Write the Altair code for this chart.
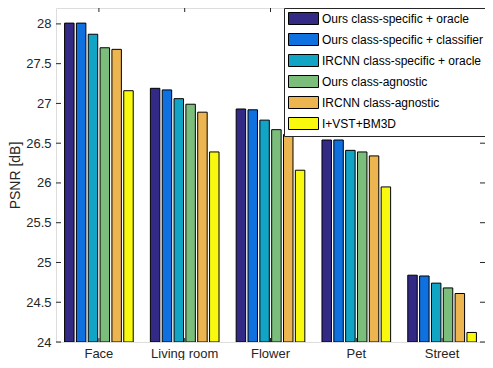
import altair as alt
import pandas as pd

categories = ["Face", "Living room", "Flower", "Pet", "Street"]
methods = [
    "Ours class-specific + oracle",
    "Ours class-specific + classifier",
    "IRCNN class-specific + oracle",
    "Ours class-agnostic",
    "IRCNN class-agnostic",
    "I+VST+BM3D",
]
colors = ["#332A86", "#0F70DF", "#12A4C4", "#7BBE7C", "#EDB54F", "#F8F90E"]

ours_specific_oracle = [28.01, 27.19, 26.93, 26.54, 24.84]
ours_specific_classifier = [28.01, 27.17, 26.92, 26.54, 24.83]
ircnn_specific_oracle = [27.87, 27.06, 26.79, 26.41, 24.74]
ours_agnostic = [27.70, 26.99, 26.67, 26.39, 24.68]
ircnn_agnostic = [27.68, 26.89, 26.61, 26.34, 24.61]
vst_bm3d = [27.16, 26.39, 26.16, 25.95, 24.12]

series = [ours_specific_oracle, ours_specific_classifier, ircnn_specific_oracle,
          ours_agnostic, ircnn_agnostic, vst_bm3d]

y_ticks = [24, 24.5, 25, 25.5, 26, 26.5, 27, 27.5, 28]
y_base = 24

rows = []
for m, vals in zip(methods, series):
    for c, v in zip(categories, vals):
        rows.append({"cat": c, "method": m, "psnr": v})
df = pd.DataFrame(rows)
ticks_df = pd.DataFrame({"t": y_ticks})
cats_df = pd.DataFrame({"cat": categories})

W, H = 429, 334
FONT = "Liberation Sans"
INK = "#262626"

xscale = alt.Scale(domain=categories, paddingInner=0.2, paddingOuter=0.1)
yscale = alt.Scale(domain=[24, 28.2], nice=False, zero=False)

bars = alt.Chart(df).mark_bar(stroke="black", strokeWidth=1, clip=True).encode(
    x=alt.X("cat:N", scale=xscale, sort=categories, title=None,
            axis=alt.Axis(labelAngle=0, ticks=False, domain=False, labelFontSize=13,
                          labelColor=INK, labelFont=FONT, labelPadding=5)),
    xOffset=alt.XOffset("method:N", sort=methods,
                        scale=alt.Scale(domain=methods, paddingInner=0.2, paddingOuter=0)),
    y=alt.Y("psnr:Q", scale=yscale, title="PSNR [dB]",
            axis=alt.Axis(values=y_ticks, format=".3~g", grid=False, ticks=False, domain=False,
                          labelFontSize=13, labelColor=INK, labelFont=FONT,
                          labelPadding=5, titleFontSize=14, titleFont=FONT,
                          titleColor=INK, titleFontWeight="normal", titlePadding=3)),
    y2=alt.Y2(datum=y_base),
    color=alt.Color("method:N", sort=methods,
                    scale=alt.Scale(domain=methods, range=colors),
                    legend=alt.Legend(title=None, orient="none", legendX=228, legendY=0,
                                      symbolType="M-1,-1H4V1H-1Z", symbolSize=144,
                                      symbolStrokeColor="black", symbolStrokeWidth=1,
                                      symbolOpacity=1,
                                      labelFontSize=12, labelFont=FONT, labelColor="black",
                                      labelOffset=21, rowPadding=4,
                                      strokeColor=INK, fillColor="white",
                                      padding=4, labelLimit=300)),
)

tick_enc_y = dict(y=alt.Y("t:Q", scale=yscale))
left_ticks = alt.Chart(ticks_df).mark_rule(color=INK, strokeWidth=1).encode(
    x=alt.value(0), x2=alt.value(5), **tick_enc_y)
right_ticks = alt.Chart(ticks_df).mark_rule(color=INK, strokeWidth=1).encode(
    x=alt.value(W - 5), x2=alt.value(W), **tick_enc_y)
bottom_ticks = alt.Chart(cats_df).mark_rule(color=INK, strokeWidth=1).encode(
    x=alt.X("cat:N", scale=xscale, sort=categories), y=alt.value(H - 4), y2=alt.value(H))
top_ticks = alt.Chart(cats_df).mark_rule(color=INK, strokeWidth=1).encode(
    x=alt.X("cat:N", scale=xscale, sort=categories), y=alt.value(0), y2=alt.value(4))

chart = alt.layer(bars, left_ticks, right_ticks, bottom_ticks, top_ticks).properties(
    width=W, height=H,
    autosize=alt.AutoSizeParams(type="none"),
    padding={"left": 48, "top": 0, "right": 0, "bottom": 18},
).configure_view(stroke=INK, strokeWidth=1).configure(background="white")

chart.save("out.html", embed_options={"renderer": "svg", "actions": False})
